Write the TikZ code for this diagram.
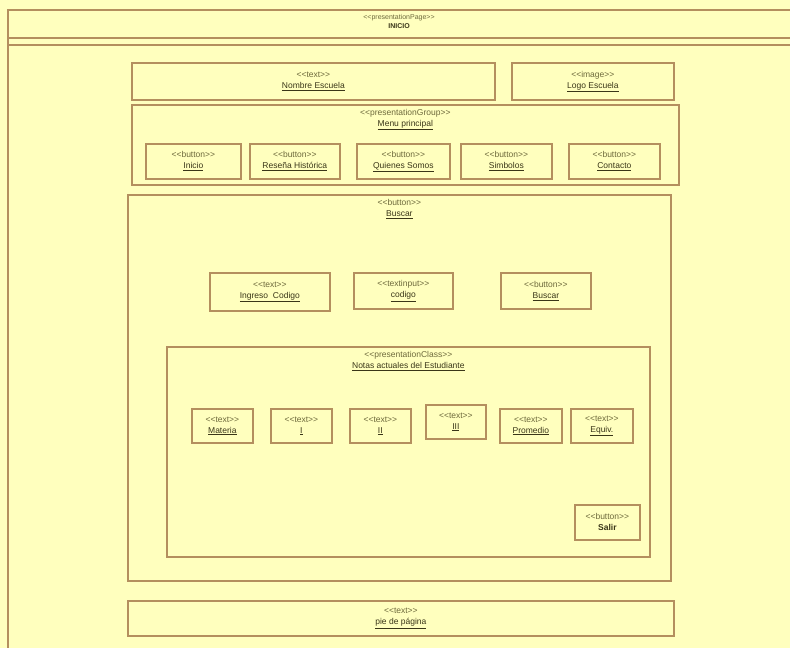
\documentclass[tikz,border=0pt]{standalone}
\usepackage{fontspec}
\setmainfont{Liberation Sans}
\definecolor{paper}{HTML}{FFFFBE}
\definecolor{edge}{HTML}{B48F5E}
\definecolor{stereo}{HTML}{6E6A3C}
\definecolor{ink}{HTML}{3A3618}
\newcommand{\elt}[2]{{\color{stereo}<{}<#1>{}>}\\{\color{ink}\underline{#2}}}
\begin{document}
\begin{tikzpicture}[x=1pt,y=-1pt,
  every node/.style={font=\fontsize{8.5}{11}\selectfont},
  box/.style={draw=edge, line width=1.7pt, fill=paper, anchor=north west, inner sep=0pt},
  cell/.style={box, align=center},
  topcap/.style={align=center, anchor=north, inner sep=0pt}]
  % page size and background
  \useasboundingbox (0,0) rectangle (790,648);
  \fill[paper] (0,0) rectangle (790,648);
  % page frame with header band
  \draw[edge, line width=1.7pt] (8,660) -- (8,10) -- (800,10);
  \draw[edge, line width=1.7pt] (8,38) -- (800,38);
  \draw[edge, line width=1.7pt] (8,45) -- (800,45);
  \node[topcap, font=\fontsize{7}{9}\selectfont] (page) at (399,14)
    {{\color{stereo}<{}<presentationPage>{}>}\\{\color{ink}\bfseries INICIO}};

  % header row
  \node[cell, minimum width=363, minimum height=37] (nombre) at (131,62) {\elt{text}{Nombre Escuela}};
  \node[cell, minimum width=162, minimum height=37] (logo) at (511,62) {\elt{image}{Logo Escuela}};

  % main menu group
  \node[box, minimum width=547, minimum height=80] (menu) at (131,104) {};
  \node[topcap] (menucap) at ([yshift=-5]menu.north) {\elt{presentationGroup}{Menu principal}};
  \node[cell, minimum width=95, minimum height=35] (inicio) at (145,143) {\elt{button}{Inicio}};
  \node[cell, minimum width=90, minimum height=35] (resena) at (249,143) {\elt{button}{Reseña Histórica}};
  \node[cell, minimum width=93, minimum height=35] (quienes) at (356,143) {\elt{button}{Quienes Somos}};
  \node[cell, minimum width=91, minimum height=35] (simbolos) at (460,143) {\elt{button}{Simbolos}};
  \node[cell, minimum width=91, minimum height=35] (contacto) at (568,143) {\elt{button}{Contacto}};

  % search area
  \node[box, minimum width=543, minimum height=386] (buscarbox) at (127,194) {};
  \node[topcap] (buscarcap) at ([yshift=-5]buscarbox.north) {\elt{button}{Buscar}};
  \node[cell, minimum width=120, minimum height=38] (ingreso) at (209,272) {\elt{text}{Ingreso\ \ Codigo}};
  \node[cell, minimum width=99, minimum height=36] (codigo) at (353,272) {\elt{textinput}{codigo}};
  \node[cell, minimum width=90, minimum height=36] (buscarbtn) at (500,272) {\elt{button}{Buscar}};

  % grades panel
  \node[box, minimum width=483, minimum height=210] (notas) at (166,346) {};
  \node[topcap] (notascap) at ([yshift=-5]notas.north) {\elt{presentationClass}{Notas actuales del Estudiante}};
  \node[cell, minimum width=61, minimum height=34] (materia) at (191,408) {\elt{text}{Materia}};
  \node[cell, minimum width=61, minimum height=34] (n1) at (270,408) {\elt{text}{I}};
  \node[cell, minimum width=61, minimum height=34] (n2) at (349,408) {\elt{text}{II}};
  \node[cell, minimum width=60, minimum height=34] (n3) at (425,404) {\elt{text}{III}};
  \node[cell, minimum width=62, minimum height=34] (prom) at (499,408) {\elt{text}{Promedio}};
  \node[cell, minimum width=62, minimum height=34] (equiv) at (570,408) {\elt{text}{Equiv.}};
  \node[cell, minimum width=65, minimum height=35] (salir) at (574,504)
    {{\color{stereo}<{}<button>{}>}\\{\color{ink}\bfseries Salir}};

  % footer
  \node[cell, minimum width=546, minimum height=35] (pie) at (127,600) {\elt{text}{pie de página}};
\end{tikzpicture}
\end{document}
